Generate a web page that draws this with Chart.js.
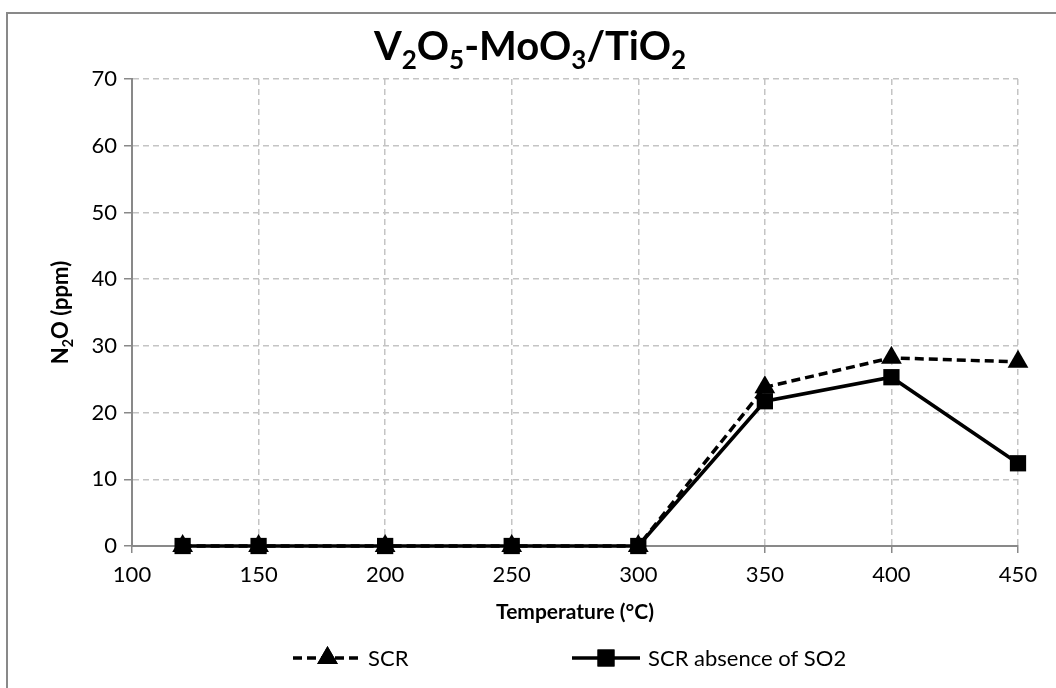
<!DOCTYPE html>
<html>
<head>
<meta charset="utf-8">
<script src="https://cdn.jsdelivr.net/npm/chart.js@4.4.1/dist/chart.umd.min.js"></script>
<style>
  html, body { margin: 0; padding: 0; background: #fff; }
  #chart { display: block; }
</style>
</head>
<body>
<canvas id="chart" width="1056" height="688"></canvas>
<script>
// N2O formed over V2O5-MoO3/TiO2 vs temperature
var temps = [120, 150, 200, 250, 300, 350, 400, 450];
var scr = [0, 0, 0, 0, 0, 23.8, 28.2, 27.6];
var scrNoSO2 = [0, 0, 0, 0, 0, 21.7, 25.3, 12.4];
var seriesNames = ['SCR', 'SCR absence of SO2'];

var FONT = 'Lato, "Open Sans", sans-serif';

function points(ys) {
  return temps.map(function(t, i) { return { x: t, y: ys[i] }; });
}

// text with subscript parts: [[text, isSub], ...]
function richWidth(ctx, parts, size) {
  var w = 0;
  parts.forEach(function(p) {
    ctx.font = 'bold ' + (p[1] ? size * 0.65 : size) + 'px ' + FONT;
    w += ctx.measureText(p[0]).width;
  });
  return w;
}
function drawRich(ctx, parts, cx, y, size) {
  var x = cx - richWidth(ctx, parts, size) / 2;
  ctx.textAlign = 'left';
  ctx.textBaseline = 'alphabetic';
  parts.forEach(function(p) {
    var s = p[1] ? size * 0.65 : size;
    ctx.font = 'bold ' + s + 'px ' + FONT;
    ctx.fillText(p[0], x, p[1] ? y + size * 0.22 : y);
    x += ctx.measureText(p[0]).width;
  });
}

function legendSample(ctx, x1, x2, y, dashed, marker) {
  ctx.save();
  ctx.strokeStyle = '#000';
  ctx.lineWidth = 3.5;
  ctx.setLineDash(dashed ? [9, 5] : []);
  ctx.beginPath();
  ctx.moveTo(x1, y);
  ctx.lineTo(x2, y);
  ctx.stroke();
  ctx.restore();
  Chart.helpers.drawPoint(ctx, { pointStyle: marker, radius: 12, borderWidth: 0 }, (x1 + x2) / 2, y);
  ctx.fill();
}

var decorations = {
  id: 'decorations',
  afterDraw: function(chart) {
    var ctx = chart.ctx;
    var area = chart.chartArea;
    ctx.save();

    // frame
    ctx.strokeStyle = '#898989';
    ctx.lineWidth = 2;
    ctx.beginPath();
    ctx.moveTo(7, 688);
    ctx.lineTo(7, 13);
    ctx.lineTo(1056, 13);
    ctx.stroke();

    ctx.fillStyle = '#000';
    // title
    drawRich(ctx, [['V', 0], ['2', 1], ['O', 0], ['5', 1], ['-MoO', 0], ['3', 1], ['/TiO', 0], ['2', 1]],
      530, 60, 40);

    // x axis title
    ctx.font = 'bold 21px ' + FONT;
    ctx.textAlign = 'center';
    ctx.textBaseline = 'middle';
    ctx.fillText('Temperature (°C)', (area.left + area.right) / 2, 612);

    // y axis title
    ctx.save();
    ctx.translate(60, (area.top + area.bottom) / 2);
    ctx.rotate(-Math.PI / 2);
    drawRich(ctx, [['N', 0], ['2', 1], ['O (ppm)', 0]], 0, 8, 22);
    ctx.restore();

    // legend
    ctx.fillStyle = '#000';
    legendSample(ctx, 293, 362, 658, true, 'triangle');
    legendSample(ctx, 572, 640, 658, false, 'rect');
    ctx.font = '22px ' + FONT;
    ctx.textAlign = 'left';
    ctx.textBaseline = 'middle';
    ctx.fillText(seriesNames[0], 368, 659);
    ctx.fillText(seriesNames[1], 648, 659);

    ctx.restore();
  }
};

var ctx = document.getElementById('chart').getContext('2d');
var chart = new Chart(ctx, {
  type: 'line',
  data: {
    datasets: [{
      label: seriesNames[0],
      data: points(scr),
      borderColor: '#000',
      backgroundColor: '#000',
      borderWidth: 3.5,
      borderDash: [9, 5],
      pointStyle: 'triangle',
      pointRadius: 12,
      pointBorderWidth: 0,
      clip: false,
      tension: 0
    }, {
      label: seriesNames[1],
      data: points(scrNoSO2),
      borderColor: '#000',
      backgroundColor: '#000',
      borderWidth: 3.5,
      pointStyle: 'rect',
      pointRadius: 11.5,
      pointBorderWidth: 0,
      clip: false,
      tension: 0
    }]
  },
  options: {
    responsive: false,
    animation: false,
    devicePixelRatio: 1,
    layout: { padding: { left: 72, top: 79, right: 38, bottom: 102 } },
    plugins: {
      legend: { display: false },
      title: { display: false },
      tooltip: { enabled: false }
    },
    scales: {
      x: {
        type: 'linear',
        min: 100,
        max: 450,
        afterFit: function(scale) { scale.height = 40; },
        ticks: { stepSize: 50, color: '#000', font: { family: FONT, size: 22 }, padding: 9, maxRotation: 0 },
        grid: { color: '#c4c4c4', lineWidth: 1.5, tickLength: 7, tickColor: '#898989', tickWidth: 1.5 },
        border: { color: '#898989', width: 2, dash: [6, 4] }
      },
      y: {
        min: 0,
        max: 70,
        afterFit: function(scale) { scale.width = 60; },
        ticks: { stepSize: 10, color: '#000', font: { family: FONT, size: 22 }, padding: 7 },
        grid: { color: '#c4c4c4', lineWidth: 1.5, tickLength: 8, tickColor: '#898989', tickWidth: 1.5 },
        border: { color: '#898989', width: 2, dash: [6, 4] }
      }
    }
  },
  plugins: [decorations]
});
</script>
</body>
</html>
